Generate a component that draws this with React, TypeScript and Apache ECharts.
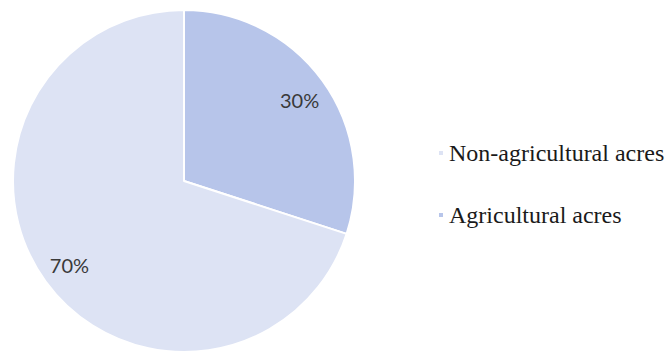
import React, { useEffect, useRef } from "react";
import * as echarts from "echarts";

const categories = ["Agricultural acres", "Non-agricultural acres"];
const values = [30, 70];
const colors = ["#b7c5ea", "#dde3f4"];
const legendOrder = ["Non-agricultural acres", "Agricultural acres"];

export default function App() {
  const ref = useRef<HTMLDivElement>(null);
  useEffect(() => {
    if (!ref.current) return;
    const chart = echarts.init(ref.current, null, { renderer: "svg" });
    const offsets = [[44, -29], [-43, 32]];
    chart.setOption({
      animation: false,
      backgroundColor: "#ffffff",
      legend: {
        orient: "vertical",
        left: 432,
        top: 136,
        itemWidth: 6,
        itemHeight: 6,
        itemGap: 38,
        icon: "rect",
        data: legendOrder,
        textStyle: { fontFamily: "Liberation Serif", fontSize: 24, color: "#1a1a1a" },
      },
      series: [
        {
          type: "pie",
          center: [184, 181],
          radius: [0, 171],
          startAngle: 90,
          clockwise: true,
          label: {
            show: true,
            position: "inside",
            formatter: "{d}%",
            fontFamily: "Lato",
            fontSize: 20,
            color: "#3a3a3a",
          },
          labelLine: { show: false },
          itemStyle: { borderColor: "#ffffff", borderWidth: 2 },
          emphasis: { disabled: true },
          data: categories.map((c, i) => ({
            name: c,
            value: values[i],
            itemStyle: { color: colors[i] },
            label: { offset: offsets[i] },
          })),
        },
      ],
    });
    return () => chart.dispose();
  }, []);
  return (
    <div
      ref={ref}
      style={{ position: "fixed", left: 0, top: 0, width: 665, height: 358 }}
    />
  );
}
